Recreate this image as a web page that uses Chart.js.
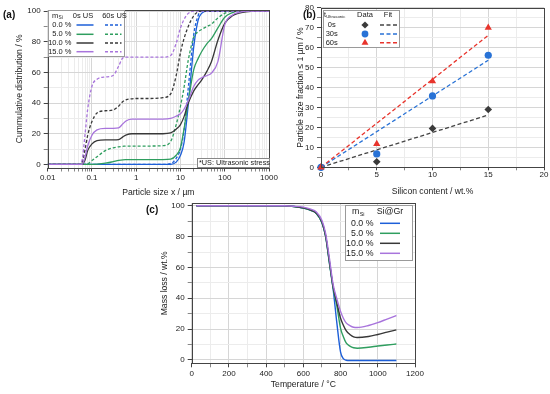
<!DOCTYPE html>
<html><head><meta charset="utf-8">
<script src="https://cdn.jsdelivr.net/npm/chart.js@4.4.1/dist/chart.umd.min.js"></script>
<style>
html,body{margin:0;padding:0;background:#fff;}
body{width:550px;height:394px;position:relative;overflow:hidden;font-family:"Liberation Sans",Arial,sans-serif;}
canvas{position:absolute;}
.pl{position:absolute;font-weight:bold;font-size:10px;color:#111;line-height:1;}
</style></head><body>
<canvas id="ca" width="285" height="200" style="left:0;top:0"></canvas>
<canvas id="cb" width="275" height="200" style="left:275px;top:0"></canvas>
<canvas id="cc" width="300" height="199" style="left:130px;top:195px"></canvas>
<div class="pl" style="left:3px;top:10px">(a)</div>
<div class="pl" style="left:303px;top:10px">(b)</div>
<div class="pl" style="left:146px;top:205px">(c)</div>
<script>
// ---------- DATA (a): cumulative particle size distribution ----------
const sizes   = [0.01,0.05,0.06,0.07,0.08,0.1,0.13,0.2,0.3,0.4,0.5,0.6,0.8,1,2,4,6,8,10,12,15,20,25,30,40,50,70,100,150,200,300,500,1000];
const si0_0s  = [0,0,0,0,0,0,0,0,0,0,0,0,0,0,0,0,0,1.5,6,14,39,77,94,98.5,100,100,100,100,100,100,100,100,100];
const si0_60s = [0,0,0,0,0,0,0,0,0,0,0,0,0,0,0,0,0.5,4,10,22,50,85,97,100,100,100,100,100,100,100,100,100,100];
const si5_0s  = [0,0,0,0,0,0,0.2,0.8,1.8,2.6,3,3.1,3.2,3.2,3.2,3.2,3.5,6,11,23,41,62,69,73.5,79,82,89,96,99,100,100,100,100];
const si5_60s = [0,0,0,0,0.4,2.5,5,9,10.8,11.5,11.8,12,12,12,12,12.2,15,26,38,50,68,83,86.5,88,90,91.5,95.5,98.5,100,100,100,100,100];
const si10_0s = [0,0,0,3,9,13.4,15.5,16,16,16.2,18,19.3,20,20,20,20,20.5,23,26,31,40,48,52,55,61,67,81,92,97,98.5,99.5,100,100];
const si10_60s= [0,0,1.5,10,19,28,33.5,35,35.5,38,41,42.3,42.8,43,43,43.5,46,58,73,82,90,97,99.5,100,100,100,100,100,100,100,100,100,100];
const si15_0s = [0,0,0,5,12,19,22.5,23.5,23.5,23.8,26.5,28.5,29.5,29.5,29.5,29.5,30,31.5,33,36,41.5,51,55,56.5,58,59.5,67,91,97.5,99,100,100,100];
const si15_60s= [0,0,3,20,36,51,55.5,57,58,64,69.5,70,70,70,70,70,71,79,89,94.5,98.5,100,100,100,100,100,100,100,100,100,100,100,100];
const msiLabels = ['0.0 %','5.0 %','10.0 %','15.0 %'];
const xTickValsA = [0.01,0.1,1,10,100,1000];
const xTickLabelsA = ['0.01','0.1','1','10','100','1000'];
const yTickValsA = [0,20,40,60,80,100];

// ---------- DATA (b): fraction <= 1 µm ----------
const siContent = [0,5,10,15];
const frac0s  = [0,2.8,19.5,29];
const frac30s = [0,6.7,35.8,56.2];
const frac60s = [0,11.7,43.2,70];
const fitX    = [0,15];
const fit0s   = [0,26.2];
const fit30s  = [0,53.7];
const fit60s  = [0,66.2];
const tLabels = ['0s','30s','60s'];
const xTickValsB = [0,5,10,15,20];
const yTickValsB = [0,10,20,30,40,50,60,70,80];

// ---------- DATA (c): TGA ----------
const temps = [25,100,200,300,400,500,550,600,640,670,700,720,740,760,780,800,815,830,850,870,890,950,1000,1050,1100];
const tga0  = [100,100,100,100,100,100,99.5,98.5,97,95,89,80,63,46,24,5,0.8,-0.2,-0.4,-0.4,-0.4,-0.4,-0.4,-0.4,-0.4];
const tga5  = [100,100,100,100,100,100,99.5,98.5,97,95,89,80,63,46.5,35,20.5,15,11,9,7.9,7.6,8.2,9,9.7,10.3];
const tga10 = [100,100,100,100,100,100,99.5,98.6,97.2,95.2,89.5,80.5,64,47.5,37,27,22.5,19,16.5,15,14.5,15.2,16.5,18,19.5];
const tga15 = [100,100,100,100,100,100,99.7,99.1,97.8,96,90.5,82,66,49,39.5,31.5,27,24,22.3,21.2,21,22.3,24.2,26.5,28.8];
const xTickValsC = [0,200,400,600,800,1000,1200];
const yTickValsC = [0,20,40,60,80,100];

// ---------- STYLE ----------
const FONT = '"Liberation Sans", Arial, sans-serif';
Chart.defaults.font.family = FONT;
Chart.defaults.color = '#222';
const COL = {blue:'#1d5fd8', green:'#2f9e5f', black:'#383838', purple:'#a874dc', red:'#e8342c', pblue:'#2872d6'};
const GMAJ = '#d6d6d6', GMIN = '#ececec';
const TICK_FS = 8, TITLE_FS = 8.6;

function near(a,b){ return Math.abs(a-b) <= 1e-9 + Math.abs(b)*1e-6; }
function isIn(v, arr){ return arr.some(t=>near(v,t)); }
function txt(ctx, s, x, y, size, align){ ctx.font = size+'px '+FONT; ctx.textAlign = align||'left'; ctx.textBaseline='middle'; ctx.fillStyle='#222'; ctx.fillText(s,x,y); return ctx.measureText(s).width; }
function sub(ctx, main, subs, x, y, size, subSize){ const w = txt(ctx, main, x, y, size); txt(ctx, subs, x+w+0.3, y+size*0.3, subSize); }
function seg(ctx, x1, x2, y, color, dash, w){ ctx.save(); ctx.strokeStyle=color; ctx.lineWidth=w; ctx.setLineDash(dash); ctx.beginPath(); ctx.moveTo(x1,y); ctx.lineTo(x2,y); ctx.stroke(); ctx.restore(); }
function box(ctx, x, y, w, h, stroke){ ctx.save(); ctx.fillStyle='#fff'; ctx.fillRect(x,y,w,h); ctx.strokeStyle=stroke||'#9a9a9a'; ctx.lineWidth=1; ctx.strokeRect(Math.round(x)+0.5, Math.round(y)+0.5, Math.round(w)-1, Math.round(h)-1); ctx.restore(); }
function frame(chart){ const {ctx, chartArea:a} = chart; ctx.save(); ctx.strokeStyle='#444'; ctx.lineWidth=1; ctx.strokeRect(Math.round(a.left)+0.5, Math.round(a.top)+0.5, Math.round(a.right)-Math.round(a.left), Math.round(a.bottom)-Math.round(a.top)); ctx.restore(); }

function linAxis(o){
  return {
    type: o.type||'linear', min:o.min, max:o.max,
    afterBuildTicks: s => { s.ticks = o.grid.map(v=>({value:v})); },
    afterFit: s => { if (o.w!==undefined) s.width = o.w; if (o.h!==undefined) s.height = o.h; },
    grid: { color: c => (c.tick && isIn(c.tick.value, o.labels)) ? GMAJ : GMIN,
            tickColor: c => (c.tick && isIn(c.tick.value, o.labels)) ? '#444' : '#888',
            tickLength: o.tl||4, drawTicks:true, lineWidth:1 },
    border: {display:false},
    ticks: { autoSkip:false, maxRotation:0, minRotation:0, padding:o.tp, font:{size:TICK_FS}, color:'#222',
             callback: v => { const i = o.labels.findIndex(t=>near(v,t)); return i>=0 ? (o.labelText? o.labelText[i] : String(o.labels[i])) : ''; } },
    title: { display:true, text:o.title, font:{size:TITLE_FS}, color:'#222', padding:o.titlePad }
  };
}
const baseOpts = { responsive:false, animation:false, events:[], plugins:{legend:{display:false}, tooltip:{enabled:false}} };

// ---------- CHART (a) ----------
const xGridA = []; for (let d=-2; d<=2; d++) for (let k=1;k<=9;k++) xGridA.push(Number((k*Math.pow(10,d)).toPrecision(6))); xGridA.push(1000);
const yGridA = []; for (let v=0; v<=100; v+=10) yGridA.push(v);
// first dataset is drawn on top
const seriesA = [
  {d:si15_60s, c:COL.purple, dash:[3,2]}, {d:si15_0s, c:COL.purple, dash:[]},
  {d:si10_60s, c:COL.black, dash:[3,2]}, {d:si10_0s, c:COL.black, dash:[]},
  {d:si5_60s, c:COL.green, dash:[3,2]}, {d:si5_0s, c:COL.green, dash:[]},
  {d:si0_60s, c:COL.blue, dash:[3,2]}, {d:si0_0s, c:COL.blue, dash:[]}
];
new Chart(document.getElementById('ca'), {
  type:'line',
  data:{ datasets: seriesA.map(s=>({ data: sizes.map((x,i)=>({x, y:s.d[i]})), borderColor:s.c, borderWidth:1.3, borderDash:s.dash, pointRadius:0, cubicInterpolationMode:'monotone', fill:false })) },
  options:{ ...baseOpts,
    layout:{padding:{left:0,right:16,top:10,bottom:0}},
    scales:{
      x: linAxis({type:'logarithmic', min:0.01, max:1000, grid:xGridA, labels:xTickValsA, labelText:xTickLabelsA, h:32.5, tp:1, title:'Particle size x / µm', titlePad:{top:0,bottom:2.1}}),
      y: linAxis({min:-2, max:100.7, grid:yGridA, labels:yTickValsA, w:47.7, tp:3, title:'Cummulative distribution / %', titlePad:{top:14.8,bottom:0}})
    }
  },
  plugins:[{id:'decoA', afterDraw(chart){
    const ctx = chart.ctx; frame(chart);
    const L = chart.chartArea.left, T = chart.chartArea.top;
    box(ctx, L, T, 125-L, 46.7);
    sub(ctx, 'm', 'Si', 52, 15.5, 7.5, 4.8);
    txt(ctx, '0s US', 83, 15.5, 7.5, 'center');
    txt(ctx, '60s US', 114.5, 15.5, 7.5, 'center');
    const rows = [25, 34.3, 43, 51.7], cols = [COL.blue, COL.green, COL.black, COL.purple];
    msiLabels.forEach((lab,i)=>{
      txt(ctx, lab, 71.5, rows[i], 7.5, 'right');
      seg(ctx, 76.5, 93.5, rows[i], cols[i], [], 1.5);
      seg(ctx, 105, 121.5, rows[i], cols[i], [3,2], 1.5);
    });
    box(ctx, 196.7, 158, 269.5-196.7, 167.5-158, '#888');
    txt(ctx, '*US: Ultrasonic stress', 199, 162.8, 7.3, 'left');
  }}]
});

// ---------- CHART (b) ----------
const xGridB = []; for (let v=0; v<=20; v+=2.5) xGridB.push(v);
const yGridB = []; for (let v=0; v<=80; v+=5) yGridB.push(v);
const pts = arr => siContent.map((x,i)=>({x, y:arr[i]}));
const fit = arr => fitX.map((x,i)=>({x, y:arr[i]}));
new Chart(document.getElementById('cb'), {
  type:'scatter',
  data:{ datasets:[
    {data:pts(frac60s), pointStyle:'triangle', pointRadius:4.2, backgroundColor:COL.red, borderColor:COL.red, borderWidth:0, clip:false},
    {data:pts(frac30s), pointStyle:'circle', pointRadius:3.6, backgroundColor:COL.pblue, borderColor:COL.pblue, borderWidth:0, clip:false},
    {data:pts(frac0s), pointStyle:'rectRot', pointRadius:3.8, backgroundColor:'#3a3a3a', borderColor:'#3a3a3a', borderWidth:0, clip:false},
    {data:fit(fit60s), showLine:true, pointRadius:0, borderColor:COL.red, borderWidth:1.3, borderDash:[4,2.5]},
    {data:fit(fit30s), showLine:true, pointRadius:0, borderColor:COL.pblue, borderWidth:1.3, borderDash:[4,2.5]},
    {data:fit(fit0s), showLine:true, pointRadius:0, borderColor:'#444', borderWidth:1.3, borderDash:[4,2.5]}
  ]},
  options:{ ...baseOpts,
    layout:{padding:{left:0,right:6,top:7.3,bottom:0}},
    scales:{
      x: linAxis({min:0, max:20, grid:xGridB, labels:xTickValsB, h:32.7, tl:3, tp:0, title:'Silicon content / wt.%', titlePad:{top:0,bottom:3.1}}),
      y: linAxis({min:0, max:80, grid:yGridB, labels:yTickValsB, w:46, tp:3, title:'Particle size fraction ≤ 1 µm / %', titlePad:{top:20.8,bottom:0}})
    }
  },
  plugins:[{id:'decoB', afterDraw(chart){
    const ctx = chart.ctx; frame(chart);
    const ox = 275;
    box(ctx, 322.7-ox, 10, 76.5, 38);
    sub(ctx, 't', 'Ultrasonic', 324-ox, 15, 7, 4.3);
    txt(ctx, 'Data', 365-ox, 15, 7.5, 'center');
    txt(ctx, 'Fit', 388-ox, 15, 7.5, 'center');
    const rows=[25,34,42.7];
    const mk=[['rectRot','#3a3a3a',3.6],['circle',COL.pblue,3.4],['triangle',COL.red,4]];
    const fc=['#444',COL.pblue,COL.red];
    tLabels.forEach((lab,i)=>{
      txt(ctx, lab, 331.7-ox, rows[i], 7.5, 'center');
      ctx.save(); ctx.fillStyle=mk[i][1]; ctx.strokeStyle=mk[i][1]; ctx.lineWidth=0;
      Chart.helpers.drawPoint(ctx, {pointStyle:mk[i][0], radius:mk[i][2], borderWidth:0}, 365-ox, rows[i]);
      ctx.restore();
      seg(ctx, 380-ox, 398.5-ox, rows[i], fc[i], [4,2.5], 1.4);
    });
  }}]
});

// ---------- CHART (c) ----------
const xGridC = []; for (let v=0; v<=1200; v+=100) xGridC.push(v);
const yGridC = []; for (let v=0; v<=100; v+=10) yGridC.push(v);
const seriesC = [{d:tga15, c:COL.purple},{d:tga10, c:COL.black},{d:tga5, c:COL.green},{d:tga0, c:COL.blue}];
new Chart(document.getElementById('cc'), {
  type:'line',
  data:{ datasets: seriesC.map(s=>({ data: temps.map((x,i)=>({x, y:s.d[i]})), borderColor:s.c, borderWidth:1.4, pointRadius:0, cubicInterpolationMode:'monotone', fill:false })) },
  options:{ ...baseOpts,
    layout:{padding:{left:0,right:15,top:8.3,bottom:0}},
    scales:{
      x: linAxis({min:0, max:1200, grid:xGridC, labels:xTickValsC, h:30.7, tp:1.2, title:'Temperature / °C', titlePad:{top:0,bottom:3.8}}),
      y: linAxis({min:-2.2, max:101.6, grid:yGridC, labels:yTickValsC, w:61.7, tp:3, title:'Mass loss / wt.%', titlePad:{top:29.8,bottom:0}})
    }
  },
  plugins:[{id:'decoC', afterDraw(chart){
    const ctx = chart.ctx; frame(chart);
    box(ctx, 215, 10, 68, 56);
    sub(ctx, 'm', 'Si', 222, 16.7, 8.8, 5.5);
    txt(ctx, 'Si@Gr', 260, 16.7, 8.8, 'center');
    const rows=[28.3,38.3,48.3,58.3], cols=[COL.blue,COL.green,COL.black,COL.purple];
    msiLabels.forEach((lab,i)=>{
      txt(ctx, lab, 243.5, rows[i], 8.8, 'right');
      seg(ctx, 250, 270, rows[i], cols[i], [], 1.5);
    });
  }}]
});
</script>
</body></html>
